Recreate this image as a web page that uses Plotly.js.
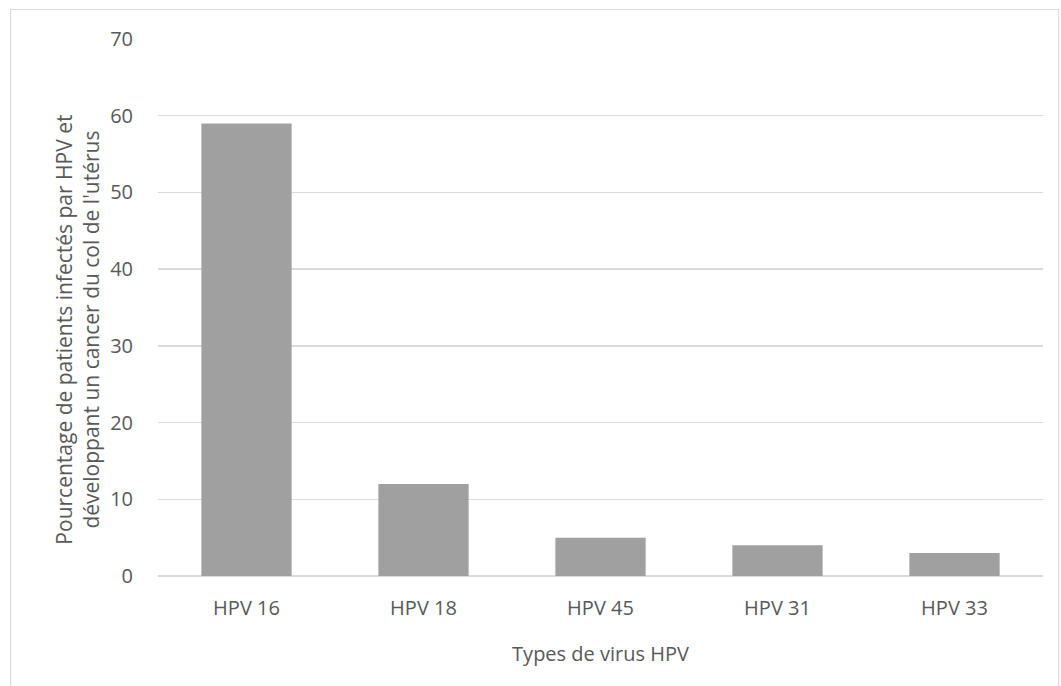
<!DOCTYPE html>
<html>
<head>
<meta charset="utf-8">
<script src="https://cdn.plot.ly/plotly-3.0.1.min.js"></script>
<style>
  html, body { margin: 0; padding: 0; background: #fff; }
  #wrap { position: relative; width: 1061px; height: 686px; overflow: hidden; }
  #chart { position: absolute; left: 0; top: 0; width: 1061px; height: 686px; }
  #frame { position: absolute; left: 10px; top: 9px; width: 1049px; height: 700px;
           border: 1px solid #d9d9d9; box-sizing: border-box; pointer-events: none; }
</style>
</head>
<body>
<div id="wrap">
  <div id="chart"></div>
  <div id="frame"></div>
</div>
<script>
const categories = ["HPV 16", "HPV 18", "HPV 45", "HPV 31", "HPV 33"];
const percentages = [59, 12, 5, 4, 3];
const yTickValues = [0, 10, 20, 30, 40, 50, 60, 70];
const xTitle = "Types de virus HPV";
const yTitle = "Pourcentage de patients infectés par HPV et<br>développant un cancer du col de l'utérus";

const fontFamily = "'Open Sans', 'Noto Sans', sans-serif";

const trace = {
  type: "bar",
  x: categories,
  y: percentages,
  marker: { color: "#a0a0a0", line: { width: 0 } },
  hoverinfo: "x+y"
};

const layout = {
  width: 1061,
  height: 686,
  margin: { l: 158, r: 18, t: 39, b: 110 },
  paper_bgcolor: "rgba(0,0,0,0)",
  plot_bgcolor: "#ffffff",
  bargap: 0.49,
  showlegend: false,
  font: { family: fontFamily, color: "#595959", size: 20 },
  xaxis: {
    type: "category",
    tickfont: { size: 20, color: "#595959" },
    showgrid: false,
    showline: false,
    ticks: "",
    ticklabelstandoff: 18,
    title: { text: xTitle, font: { size: 20, color: "#595959" }, standoff: 26 }
  },
  yaxis: {
    range: [0, 70],
    tickvals: yTickValues,
    ticktext: yTickValues.map(String),
    tickfont: { size: 20, color: "#595959" },
    showgrid: true,
    gridcolor: "#d9d9d9",
    gridwidth: 1.5,
    zeroline: true,
    zerolinecolor: "#d9d9d9",
    zerolinewidth: 1.5,
    showline: false,
    ticks: "",
    ticklabelstandoff: 24
  },
  annotations: [{
    text: yTitle,
    xref: "paper", yref: "paper",
    x: -0.092, y: 0.458,
    xanchor: "center", yanchor: "middle",
    textangle: -90,
    showarrow: false,
    font: { family: fontFamily, size: 21, color: "#595959" }
  }]
};

Plotly.newPlot("chart", [trace], layout, { displayModeBar: false, staticPlot: true });
</script>
</body>
</html>
